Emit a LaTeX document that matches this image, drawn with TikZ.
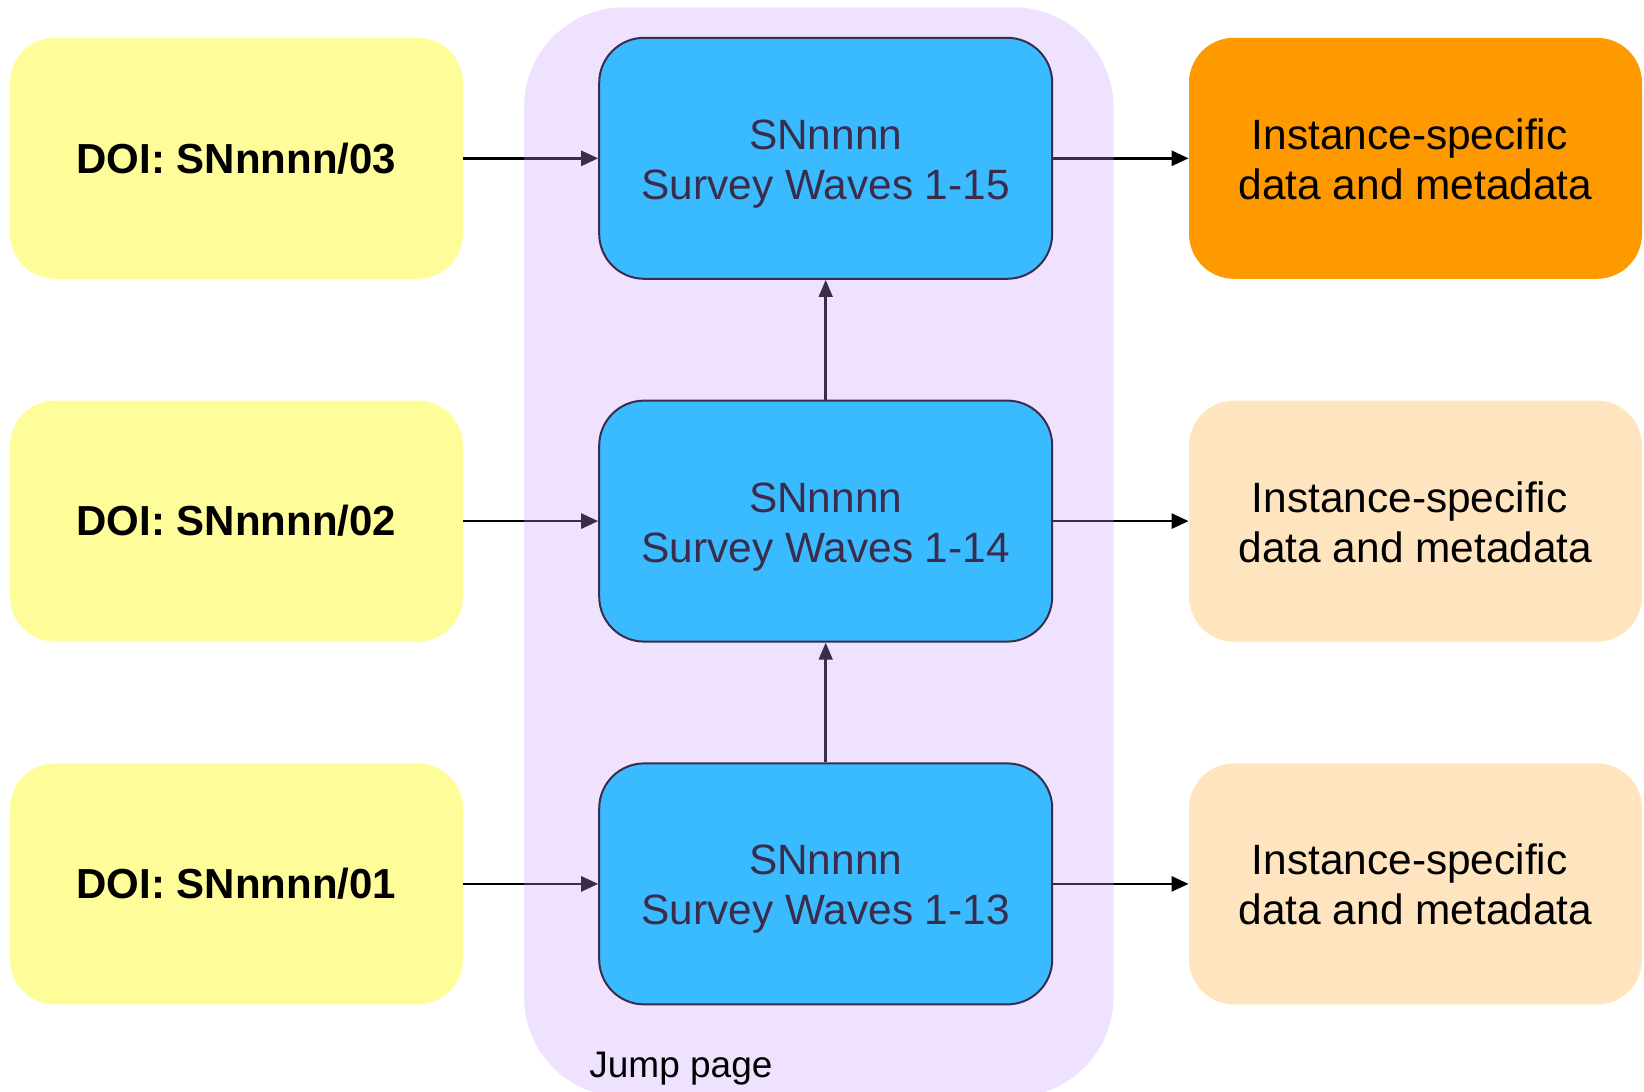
\documentclass[tikz,border=0pt]{standalone}
\usepackage{fontspec}
\setmainfont{Liberation Sans}
\usetikzlibrary{arrows.meta}
\definecolor{yel}{HTML}{FFFD99}
\definecolor{sky}{HTML}{00C9FF}
\definecolor{orn}{HTML}{FF9900}
\definecolor{lorn}{HTML}{FFE5BF}
\definecolor{lav}{HTML}{C89BFF}
\begin{document}
\begin{tikzpicture}[x=0.5pt,y=-0.5pt,
  box/.style={rounded corners=22.5pt, minimum width=226.5pt, minimum height=120.5pt, inner sep=0pt, align=center},
  doibox/.style={box, fill=yel, font=\fontsize{21}{24}\selectfont\bfseries},
  twoline/.style={font=\fontsize{21.2}{25}\selectfont, text height=42.3pt, text depth=1.3pt},
  wavebox/.style={box, twoline, fill=sky, draw=black, line width=1pt},
  outbox/.style={box, twoline},
  link/.style={draw=black, line width=1.3pt, -{Triangle[length=8.5pt,width=7.5pt]}},
  uplink/.style={draw=black, line width=1.3pt, -{Triangle[length=8.5pt,width=6.8pt]}}
]
\useasboundingbox (0,0) rectangle (1644,1092);
% left column
\node[doibox] (d3) at (236.5,158.3) {DOI: SNnnnn/03};
\node[doibox] (d2) at (236.5,521.1) {DOI: SNnnnn/02};
\node[doibox] (d1) at (236.5,883.9) {DOI: SNnnnn/01};
% middle column
\node[wavebox] (w3) at (825.7,158.3) {SNnnnn\\Survey Waves 1-15};
\node[wavebox] (w2) at (825.7,521.1) {SNnnnn\\Survey Waves 1-14};
\node[wavebox] (w1) at (825.7,883.9) {SNnnnn\\Survey Waves 1-13};
% right column
\node[outbox, fill=orn] (o3) at (1415.5,158.3) {Instance-specific\hspace*{.278em}\\data and metadata};
\node[outbox, fill=lorn] (o2) at (1415.5,521.1) {Instance-specific\hspace*{.278em}\\data and metadata};
\node[outbox, fill=lorn] (o1) at (1415.5,883.9) {Instance-specific\hspace*{.278em}\\data and metadata};
% connectors
\draw[link] (d3.east) -- (w3.west);
\draw[link] (d2.east) -- (w2.west);
\draw[link] (d1.east) -- (w1.west);
\draw[link] (w3.east) -- (o3.west);
\draw[link] (w2.east) -- (o2.west);
\draw[link] (w1.east) -- (o1.west);
\draw[uplink] (w1.north) -- (w2.south);
\draw[uplink] (w2.north) -- (w3.south);
% jump page container overlay
\fill[lav, fill opacity=0.29, rounded corners=50pt] (524,7.3) rectangle (1113.5,1097);
\node[anchor=base west, inner sep=0pt, font=\fontsize{18.5}{22}\selectfont] (jump) at (589,1077) {Jump page};
\end{tikzpicture}
\end{document}
